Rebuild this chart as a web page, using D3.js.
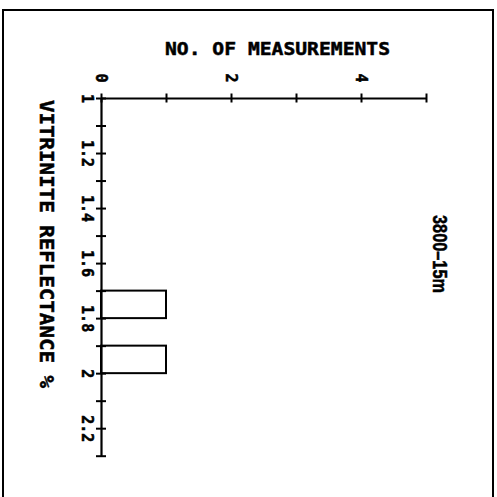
<!DOCTYPE html>
<html>
<head>
<meta charset="utf-8">
<script src="https://cdn.jsdelivr.net/npm/d3@7"></script>
<style>
  body { margin: 0; background: #fff; }
  svg { display: block; }
</style>
</head>
<body>
<svg id="main-vis"></svg>
<script>
// histogram data: reflectance bins (start value, width 0.1) and counts
const binStarts = [1.7, 1.9];
const binCounts = [1, 1];
const binWidth = 0.1;

// tick values / labels
const countTicks = [0, 1, 2, 3, 4, 5];
const countLabels = ["0", "", "2", "", "4", ""];
const reflTicks = [1.0, 1.1, 1.2, 1.3, 1.4, 1.5, 1.6, 1.7, 1.8, 1.9, 2.0, 2.1, 2.2, 2.3];
const reflLabels = ["1", "", "1.2", "", "1.4", "", "1.6", "", "1.8", "", "2", "", "2.2", ""];

const countTitle = "NO. OF MEASUREMENTS";
const reflTitle = "VITRINITE REFLECTANCE %";
const sampleLabel = "3800\u201315m";

const width = 497;
const height = 497;
const font = "'DejaVu Sans Mono', monospace";

const svg = d3.select("#main-vis")
  .attr("width", width)
  .attr("height", height);

// outer frame (bottom edge runs off the page)
svg.append("rect")
  .attr("x", 3).attr("y", 10)
  .attr("width", 490).attr("height", 520)
  .attr("fill", "none")
  .attr("stroke", "#000")
  .attr("stroke-width", 2);

const x = d3.scaleLinear().domain([0, 5]).range([101, 426]);
const y = d3.scaleLinear().domain([1.0, 2.3]).range([98, 455.7]);

// bars
svg.append("g")
  .selectAll("rect")
  .data(binStarts.map((s, i) => ({ start: s, count: binCounts[i] })))
  .enter()
  .append("rect")
  .attr("x", x(0))
  .attr("y", d => y(d.start))
  .attr("width", d => x(d.count) - x(0))
  .attr("height", d => y(d.start + binWidth) - y(d.start))
  .attr("fill", "#fff")
  .attr("stroke", "#000")
  .attr("stroke-width", 2);

// count axis (top)
const xAxis = svg.append("g")
  .attr("transform", `translate(0, ${y(1.0)})`)
  .call(d3.axisTop(x)
    .tickValues(countTicks)
    .tickSize(0)
    .tickFormat((d, i) => countLabels[i]));

// reflectance axis (left)
const yAxis = svg.append("g")
  .attr("transform", `translate(${x(0)}, 0)`)
  .call(d3.axisLeft(y)
    .tickValues(reflTicks)
    .tickSize(0)
    .tickFormat((d, i) => reflLabels[i]));

[xAxis, yAxis].forEach(g => {
  g.select(".domain").attr("stroke", "#000").attr("stroke-width", 2.2);
  g.selectAll(".tick line").remove();
});

// ticks cross the axis line
xAxis.selectAll(".tick").append("line")
  .attr("y1", -4.5).attr("y2", 4.5)
  .attr("stroke", "#000").attr("stroke-width", 2);
yAxis.selectAll(".tick").append("line")
  .attr("x1", -5).attr("x2", 5)
  .attr("stroke", "#000").attr("stroke-width", 2);

// plotter lettering is heavy, thicken it with a thin outline
function heavy(sel) {
  sel.attr("font-weight", "bold")
    .attr("fill", "#000")
    .attr("stroke", "#000")
    .attr("stroke-width", 0.5);
}

xAxis.selectAll(".tick text")
  .attr("x", 0).attr("y", 0).attr("dy", "0.35em")
  .attr("transform", "translate(0,-20) rotate(90)")
  .attr("text-anchor", "middle")
  .attr("font-family", font)
  .attr("font-size", 15)
  .call(heavy);

yAxis.selectAll(".tick text")
  .attr("x", 0).attr("y", 0).attr("dy", "0.35em")
  .attr("transform", "translate(-14,0) rotate(90)")
  .attr("text-anchor", "middle")
  .attr("font-family", font)
  .attr("font-size", 15)
  .call(heavy);

// titles
svg.append("text")
  .attr("x", 277.5).attr("y", 55)
  .attr("text-anchor", "middle")
  .attr("font-family", font)
  .attr("font-size", 18)
  .attr("textLength", 225)
  .attr("lengthAdjust", "spacingAndGlyphs")
  .call(heavy)
  .text(countTitle);

svg.append("text")
  .attr("transform", "translate(47,244) rotate(90)")
  .attr("dy", "0.35em")
  .attr("text-anchor", "middle")
  .attr("font-family", font)
  .attr("font-size", 19)
  .attr("textLength", 288)
  .attr("lengthAdjust", "spacingAndGlyphs")
  .call(heavy)
  .text(reflTitle);

svg.append("text")
  .attr("transform", "translate(440,254) rotate(90)")
  .attr("dy", "0.35em")
  .attr("text-anchor", "middle")
  .attr("font-family", "'Liberation Sans', Arial, sans-serif")
  .attr("font-size", 21)
  .attr("textLength", 78)
  .attr("lengthAdjust", "spacingAndGlyphs")
  .call(heavy)
  .text(sampleLabel);
</script>
</body>
</html>
